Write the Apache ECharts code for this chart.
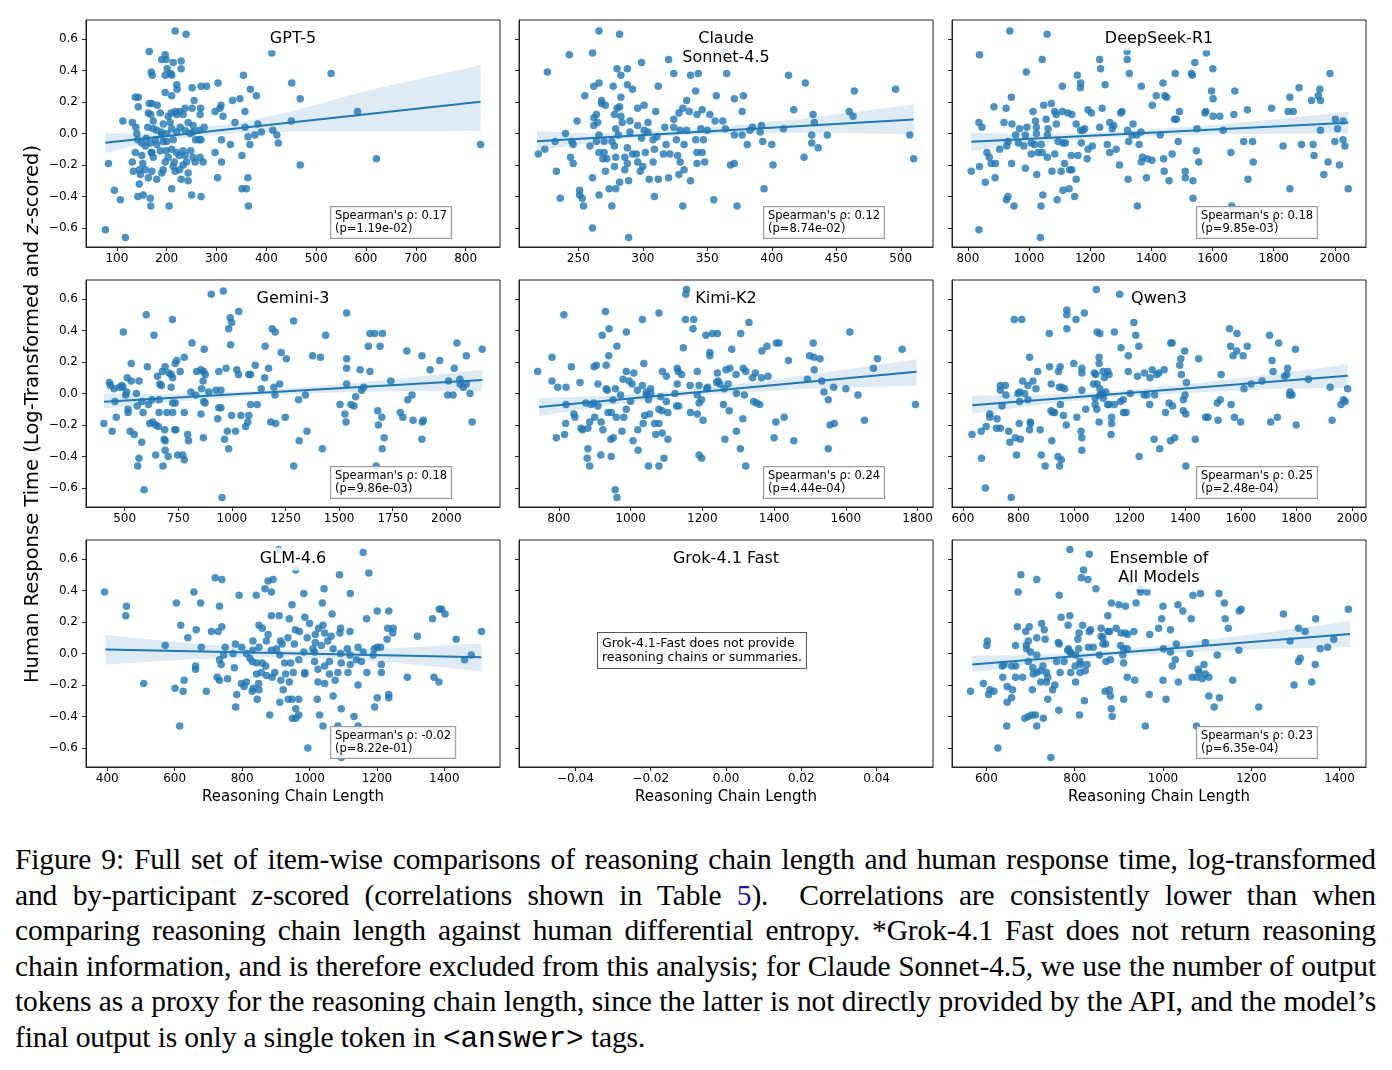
<!DOCTYPE html>
<html>
<head>
<meta charset="utf-8">
<script src="https://cdn.jsdelivr.net/npm/echarts@6/dist/echarts.min.js"></script>
<style>
  body { margin: 0; background: #fff; }
  #chart { position: absolute; left: 0; top: 0; width: 1392px; height: 820px; }
  .caption { position: absolute; left: 15px; top: 842px; width: 1361px; font-family: 'Liberation Serif', serif; color: #000; }
  .caption div { font-size: 29.5px; letter-spacing: -0.12px; line-height: 35.5px; white-space: nowrap; text-align: justify; text-align-last: justify; }
  .caption div.last { text-align-last: left; }
  .caption .ref { color: #1a1a9c; }
  .caption .mono { font-family: 'Liberation Mono', monospace; }
</style>
</head>
<body>
<div id="chart"></div>
<div class="caption">
  <div>Figure 9: Full set of item-wise comparisons of reasoning chain length and human response time, log-transformed</div>
  <div>and by-participant <i>z</i>-scored (correlations shown in Table <span class="ref">5</span>).&nbsp; Correlations are consistently lower than when</div>
  <div>comparing reasoning chain length against human differential entropy. *Grok-4.1 Fast does not return reasoning</div>
  <div>chain information, and is therefore excluded from this analysis; for Claude Sonnet-4.5, we use the number of output</div>
  <div>tokens as a proxy for the reasoning chain length, since the latter is not directly provided by the API, and the model’s</div>
  <div class="last">final output is only a single token in <span class="mono">&lt;answer&gt;</span> tags.</div>
</div>
<script>
// [reasoning chain length, response time (log, z-scored)] per item
const gpt5Pts = [[217,0.65],[239,0.63],[165,0.52],[411,0.51],[197,0.50],[190,0.47],[199,0.47],[229,0.46],[213,0.45],[229,0.41],[201,0.41],[169,0.39],[171,0.37],[197,0.37],[208,0.38],[354,0.37],[530,0.38],[210,0.37],[451,0.32],[303,0.32],[251,0.29],[269,0.30],[280,0.30],[368,0.28],[220,0.31],[197,0.26],[210,0.24],[221,0.28],[380,0.24],[137,0.23],[143,0.23],[468,0.22],[332,0.21],[347,0.22],[255,0.21],[165,0.19],[143,0.17],[309,0.18],[251,0.16],[268,0.16],[307,0.16],[181,0.18],[237,0.16],[226,0.14],[217,0.14],[297,0.14],[357,0.14],[583,0.14],[163,0.13],[187,0.13],[203,0.11],[209,0.13],[267,0.12],[313,0.11],[450,0.08],[112,0.08],[131,0.07],[173,0.08],[337,0.07],[383,0.06],[253,0.05],[275,0.04],[357,0.04],[413,0.02],[138,0.04],[162,0.04],[193,0.06],[173,0.03],[189,0.01],[237,0.02],[220,0.01],[390,0.01],[140,0.0],[200,0.0],[247,0.0],[142,-0.04],[159,-0.03],[177,-0.04],[213,-0.04],[258,-0.04],[265,-0.04],[269,-0.04],[310,-0.04],[363,-0.02],[377,-0.01],[421,-0.01],[424,-0.06],[367,-0.07],[328,-0.07],[150,-0.06],[167,-0.06],[180,-0.07],[193,-0.05],[157,-0.08],[187,-0.11],[199,-0.11],[210,-0.10],[220,-0.12],[233,-0.11],[137,-0.12],[169,-0.12],[830,-0.07],[150,-0.14],[173,-0.15],[203,-0.15],[225,-0.14],[237,-0.14],[297,-0.12],[351,-0.14],[253,-0.15],[267,-0.15],[621,-0.16],[131,-0.18],[152,-0.19],[197,-0.18],[215,-0.18],[240,-0.18],[257,-0.18],[273,-0.18],[310,-0.18],[83,-0.19],[213,-0.21],[233,-0.20],[468,-0.20],[193,-0.23],[226,-0.23],[145,-0.23],[170,-0.24],[157,-0.23],[133,-0.24],[217,-0.24],[147,-0.26],[243,-0.25],[163,-0.28],[180,-0.29],[229,-0.29],[243,-0.30],[302,-0.28],[363,-0.28],[145,-0.32],[190,-0.25],[210,-0.35],[351,-0.35],[360,-0.35],[95,-0.36],[142,-0.40],[153,-0.39],[250,-0.39],[269,-0.40],[107,-0.42],[167,-0.41],[168,-0.46],[205,-0.46],[364,-0.46],[77,-0.61],[117,-0.66],[170,0.19],[168,0.12],[180,0.02],[190,-0.01],[210,0.03],[227,0.04],[253,0.01],[265,0.02],[243,0.07],[233,0.12],[220,0.12],[207,0.07],[200,-0.05],[170,-0.12],[248,-0.11]];
const claudePts = [[266,0.65],[282,0.63],[243,0.50],[261,0.51],[363,0.52],[320,0.47],[299,0.45],[226,0.39],[280,0.41],[288,0.41],[283,0.37],[324,0.38],[337,0.37],[343,0.38],[365,0.38],[413,0.37],[426,0.32],[266,0.32],[262,0.30],[277,0.30],[288,0.31],[292,0.28],[312,0.30],[341,0.27],[496,0.28],[464,0.27],[255,0.24],[268,0.21],[283,0.23],[334,0.21],[357,0.24],[371,0.22],[378,0.24],[268,0.19],[271,0.18],[280,0.16],[282,0.17],[296,0.16],[301,0.18],[310,0.14],[331,0.16],[336,0.14],[346,0.15],[377,0.14],[417,0.15],[460,0.14],[463,0.11],[432,0.12],[328,0.13],[342,0.12],[352,0.12],[264,0.12],[262,0.10],[283,0.11],[249,0.08],[265,0.07],[284,0.07],[290,0.08],[304,0.07],[324,0.09],[356,0.08],[362,0.08],[433,0.07],[385,0.04],[392,0.05],[409,0.03],[262,0.05],[279,0.03],[296,0.05],[301,0.02],[317,0.04],[324,0.04],[329,0.02],[334,0.02],[345,0.03],[350,0.02],[364,0.03],[383,0.02],[240,0.0],[266,-0.01],[281,-0.01],[290,0.01],[304,0.01],[311,-0.02],[371,-0.01],[377,-0.01],[391,0.01],[431,-0.01],[443,-0.01],[507,-0.01],[232,-0.05],[245,-0.05],[264,-0.05],[270,-0.05],[276,-0.05],[299,-0.03],[308,-0.04],[326,-0.04],[332,-0.07],[341,-0.04],[347,-0.04],[393,-0.05],[400,-0.07],[381,-0.07],[431,-0.06],[224,-0.10],[246,-0.07],[259,-0.08],[278,-0.08],[266,-0.12],[270,-0.12],[288,-0.09],[292,-0.13],[318,-0.07],[309,-0.10],[316,-0.13],[321,-0.13],[327,-0.14],[342,-0.12],[346,-0.12],[436,-0.09],[219,-0.13],[244,-0.15],[269,-0.16],[272,-0.16],[279,-0.15],[286,-0.15],[295,-0.13],[302,-0.12],[308,-0.18],[329,-0.18],[342,-0.19],[348,-0.18],[425,-0.15],[510,-0.16],[246,-0.19],[271,-0.24],[278,-0.21],[286,-0.23],[288,-0.19],[296,-0.18],[298,-0.24],[300,-0.21],[305,-0.29],[312,-0.29],[320,-0.28],[328,-0.26],[332,-0.23],[337,-0.30],[368,-0.20],[371,-0.19],[401,-0.20],[233,-0.24],[261,-0.28],[289,-0.30],[274,-0.35],[279,-0.35],[282,-0.31],[251,-0.36],[251,-0.39],[253,-0.41],[254,-0.46],[236,-0.41],[266,-0.39],[276,-0.46],[309,-0.40],[331,-0.46],[355,-0.42],[373,-0.46],[394,-0.35],[261,-0.60],[289,-0.66],[278,0.12]];
const deepseekPts = [[937,0.65],[1059,0.63],[838,0.50],[1321,0.52],[1580,0.51],[1043,0.47],[1231,0.47],[1321,0.47],[1542,0.45],[1234,0.41],[1601,0.41],[991,0.39],[1158,0.37],[1328,0.38],[1478,0.38],[1531,0.38],[1534,0.37],[1984,0.38],[1169,0.32],[1168,0.29],[1249,0.31],[1109,0.30],[1367,0.30],[1438,0.32],[1883,0.29],[1951,0.28],[942,0.23],[1416,0.24],[1444,0.24],[1450,0.23],[1673,0.27],[1597,0.27],[1602,0.22],[1853,0.23],[1924,0.21],[1946,0.24],[1953,0.21],[1048,0.18],[1073,0.19],[885,0.17],[925,0.16],[1239,0.16],[1403,0.18],[1193,0.15],[1204,0.13],[1084,0.14],[1109,0.14],[1127,0.13],[1140,0.12],[1089,0.12],[1300,0.13],[1304,0.14],[1492,0.14],[1578,0.14],[1575,0.13],[1602,0.11],[1624,0.11],[1670,0.12],[1714,0.15],[1793,0.16],[1847,0.14],[1864,0.14],[2002,0.09],[2027,0.08],[1013,0.14],[918,0.07],[944,0.06],[836,0.07],[846,0.04],[969,0.03],[993,0.04],[1021,0.08],[1056,0.09],[1024,0.04],[1062,0.03],[1089,0.06],[1154,0.06],[1169,0.02],[1176,0.02],[1182,0.03],[1231,0.04],[1264,0.07],[1277,0.05],[1272,0.03],[1340,0.06],[1322,0.02],[1337,-0.01],[1352,-0.01],[1366,0.01],[1429,-0.01],[1482,0.09],[1476,0.09],[1549,0.03],[1635,0.02],[1953,0.02],[2009,0.03],[2000,-0.05],[2027,-0.04],[2033,-0.08],[1929,-0.07],[956,-0.01],[988,-0.01],[965,-0.06],[927,-0.08],[904,-0.10],[931,-0.05],[983,-0.08],[1007,-0.06],[1018,-0.07],[1024,0.0],[1060,-0.01],[1040,-0.07],[1007,-0.13],[1029,-0.12],[1043,-0.12],[1060,-0.15],[1084,-0.13],[1095,-0.05],[1111,-0.06],[1119,-0.06],[1171,-0.06],[1138,-0.14],[1160,-0.14],[1193,-0.10],[1207,-0.08],[1190,-0.16],[1256,-0.07],[1264,-0.12],[1285,-0.10],[1326,-0.05],[1360,-0.07],[1367,-0.18],[1371,-0.15],[1387,-0.16],[1402,-0.17],[1440,-0.16],[1468,-0.13],[1488,-0.05],[1547,-0.11],[1555,-0.18],[1660,-0.12],[1702,-0.05],[1731,-0.05],[1733,-0.18],[1831,-0.08],[1891,-0.07],[1978,-0.18],[2015,-0.20],[811,-0.24],[838,-0.21],[862,-0.12],[870,-0.15],[876,-0.19],[890,-0.19],[943,-0.19],[988,-0.22],[889,-0.28],[857,-0.31],[1025,-0.26],[1075,-0.24],[1116,-0.19],[1105,-0.24],[1133,-0.23],[1140,-0.23],[1154,-0.29],[1296,-0.20],[1324,-0.29],[1384,-0.28],[1442,-0.24],[1458,-0.30],[1511,-0.24],[1511,-0.28],[1536,-0.30],[1716,-0.29],[1932,-0.14],[1964,-0.26],[926,-0.42],[931,-0.40],[951,-0.46],[1045,-0.39],[1039,-0.46],[1092,-0.42],[1111,-0.36],[1131,-0.35],[1149,-0.40],[1354,-0.46],[1536,-0.41],[1663,-0.46],[1853,-0.35],[2044,-0.35],[836,-0.61],[1037,-0.66]];
const geminiPts = [[960,0.65],[904,0.63],[1032,0.52],[1535,0.51],[601,0.50],[723,0.47],[992,0.48],[1288,0.46],[999,0.45],[985,0.41],[1188,0.41],[1202,0.39],[494,0.39],[637,0.37],[1437,0.37],[1644,0.38],[1667,0.38],[1702,0.38],[1636,0.30],[1691,0.30],[814,0.32],[994,0.31],[1155,0.30],[2049,0.32],[871,0.28],[2167,0.28],[1230,0.26],[1816,0.27],[778,0.23],[743,0.21],[1376,0.24],[1413,0.23],[1254,0.22],[1535,0.22],[1886,0.24],[1969,0.21],[2093,0.24],[531,0.19],[606,0.17],[736,0.19],[689,0.17],[1109,0.18],[973,0.16],[1171,0.16],[1535,0.16],[2037,0.16],[1924,0.15],[1598,0.15],[1644,0.14],[856,0.15],[868,0.14],[836,0.14],[939,0.14],[1023,0.15],[1031,0.12],[1079,0.12],[1087,0.12],[1153,0.10],[876,0.12],[676,0.14],[707,0.13],[759,0.14],[717,0.12],[724,0.10],[653,0.11],[512,0.10],[531,0.08],[866,0.08],[1741,0.08],[2010,0.08],[2063,0.09],[429,0.07],[487,0.05],[476,0.04],[492,0.04],[567,0.08],[664,0.06],[671,0.05],[717,0.04],[926,0.02],[949,0.02],[859,0.03],[809,0.01],[892,0.01],[1137,0.03],[1196,0.04],[1223,0.06],[1535,0.06],[1605,0.02],[1614,0.04],[2079,0.04],[2064,0.06],[2093,0.06],[2110,0.0],[2031,-0.01],[450,0.03],[434,0.05],[505,-0.01],[509,0.01],[455,-0.05],[555,0.0],[580,-0.05],[611,-0.07],[516,-0.12],[516,-0.10],[559,-0.08],[586,-0.12],[661,-0.04],[627,-0.04],[736,-0.06],[724,-0.06],[697,-0.12],[661,-0.12],[724,-0.12],[778,-0.12],[832,-0.01],[869,-0.05],[875,-0.06],[856,-0.13],[939,-0.09],[949,-0.09],[934,-0.16],[999,-0.14],[1042,-0.14],[1087,-0.07],[1118,-0.07],[1079,-0.14],[1181,-0.18],[1204,-0.19],[1201,-0.01],[1249,-0.15],[1311,-0.04],[1343,-0.01],[1504,-0.07],[1527,-0.13],[1532,-0.18],[1555,-0.07],[1569,-0.08],[1577,-0.02],[1680,-0.11],[1699,-0.15],[1785,-0.12],[1797,-0.15],[1820,-0.04],[1840,-0.01],[1845,-0.17],[1888,-0.18],[1893,-0.17],[2120,-0.18],[2006,-0.01],[403,-0.19],[461,-0.15],[442,-0.24],[526,-0.24],[545,-0.26],[617,-0.19],[631,-0.18],[645,-0.20],[657,-0.21],[687,-0.23],[734,-0.23],[739,-0.23],[684,-0.29],[689,-0.30],[794,-0.26],[798,-0.30],[867,-0.28],[979,-0.24],[1017,-0.24],[1064,-0.21],[966,-0.29],[985,-0.35],[1074,-0.18],[1314,-0.30],[1350,-0.24],[1683,-0.20],[1710,-0.28],[1701,-0.35],[1886,-0.29],[580,-0.31],[689,-0.36],[703,-0.40],[645,-0.39],[567,-0.41],[561,-0.46],[679,-0.46],[747,-0.39],[771,-0.39],[778,-0.42],[1422,-0.35],[1288,-0.46],[1673,-0.46],[591,-0.61],[954,-0.66]];
const kimiPts = [[1156,0.66],[1154,0.63],[814,0.50],[930,0.52],[1079,0.51],[1033,0.47],[1153,0.47],[1176,0.47],[1330,0.45],[940,0.41],[1174,0.41],[921,0.37],[988,0.39],[1210,0.37],[1228,0.38],[1242,0.38],[1307,0.38],[1611,0.39],[962,0.30],[1147,0.29],[1282,0.28],[1380,0.30],[1406,0.32],[1414,0.32],[1509,0.32],[1366,0.27],[1757,0.28],[781,0.23],[939,0.24],[1221,0.26],[1221,0.24],[1499,0.24],[1511,0.23],[1528,0.22],[1688,0.22],[1440,0.21],[898,0.17],[905,0.18],[932,0.18],[1037,0.19],[835,0.17],[741,0.14],[988,0.14],[1009,0.13],[1089,0.14],[1100,0.11],[1130,0.16],[1133,0.14],[1142,0.12],[1186,0.14],[1266,0.15],[1277,0.16],[1294,0.12],[1314,0.16],[1321,0.14],[1348,0.13],[1383,0.11],[1512,0.15],[1677,0.16],[1242,0.13],[1244,0.08],[781,0.08],[797,0.04],[820,0.04],[859,0.07],[909,0.06],[932,0.03],[935,0.02],[958,0.03],[979,0.09],[996,0.08],[1004,0.06],[1033,0.05],[1056,0.03],[1019,0.02],[1044,0.01],[1130,0.06],[1166,0.05],[1191,0.05],[1212,0.03],[1215,0.04],[1240,0.07],[1249,0.06],[1261,0.03],[1272,0.06],[1295,0.0],[1340,0.10],[1365,0.10],[1493,0.09],[1533,0.08],[1539,0.01],[1566,0.04],[1600,0.03],[1634,-0.01],[1794,-0.07],[1551,-0.04],[1317,-0.01],[1343,-0.05],[1351,-0.06],[1360,-0.07],[1259,-0.07],[1275,-0.11],[1191,-0.06],[1198,-0.04],[1186,-0.01],[1167,-0.12],[1186,-0.13],[1202,-0.17],[1124,0.0],[1128,-0.08],[1134,-0.08],[1100,-0.05],[1084,-0.02],[1079,-0.10],[1088,-0.11],[1104,-0.12],[1056,0.0],[1050,-0.04],[1044,-0.01],[1039,-0.14],[1053,-0.13],[1067,-0.19],[1079,-0.19],[1088,-0.25],[1104,-0.29],[1070,-0.26],[1035,-0.19],[988,-0.10],[981,-0.15],[960,-0.15],[937,-0.12],[946,-0.12],[951,-0.04],[972,-0.01],[1000,-0.05],[909,-0.08],[890,-0.07],[875,-0.06],[820,-0.07],[897,-0.06],[842,-0.13],[845,-0.15],[900,-0.15],[886,-0.18],[918,-0.18],[819,-0.19],[862,-0.22],[866,-0.23],[881,-0.22],[923,-0.23],[976,-0.24],[1020,-0.23],[793,-0.28],[816,-0.26],[945,-0.29],[952,-0.28],[1007,-0.30],[1021,-0.36],[881,-0.35],[879,-0.41],[886,-0.46],[917,-0.39],[946,-0.40],[1050,-0.46],[1079,-0.46],[1093,-0.41],[1191,-0.39],[1198,-0.41],[1263,-0.29],[1295,-0.24],[1306,-0.35],[1313,-0.16],[1321,-0.46],[1405,-0.18],[1428,-0.15],[1400,-0.28],[1455,-0.30],[1556,-0.20],[1568,-0.19],[1551,-0.35],[1652,-0.17],[957,-0.61],[962,-0.66]];
const qwenPts = [[1080,0.66],[1164,0.63],[785,0.47],[812,0.47],[974,0.53],[974,0.50],[1037,0.51],[1007,0.47],[974,0.41],[911,0.38],[1083,0.39],[1093,0.38],[1145,0.39],[1215,0.45],[1222,0.37],[1233,0.30],[1169,0.29],[1353,0.32],[1348,0.32],[1398,0.27],[1559,0.41],[1586,0.38],[1703,0.37],[1736,0.32],[1796,0.28],[1623,0.30],[1563,0.30],[1572,0.24],[1608,0.24],[1585,0.27],[840,0.23],[1090,0.23],[1090,0.19],[1195,0.24],[1384,0.22],[1380,0.18],[1448,0.22],[1712,0.21],[1716,0.14],[1768,0.16],[1765,0.12],[999,0.19],[869,0.14],[912,0.17],[950,0.17],[944,0.14],[1028,0.16],[1028,0.13],[1073,0.13],[1078,0.12],[1104,0.14],[1121,0.14],[1126,0.12],[1109,0.10],[1195,0.14],[1228,0.11],[1253,0.13],[1281,0.15],[1273,0.10],[1297,0.12],[1305,0.13],[1324,0.15],[1386,0.12],[1404,0.07],[1529,0.12],[1637,0.06],[1676,0.08],[1843,0.09],[1757,0.11],[1611,0.03],[1777,0.01],[1784,-0.01],[1921,0.04],[1984,0.03],[815,0.08],[852,0.08],[735,0.05],[753,0.05],[735,0.02],[834,0.05],[918,0.06],[947,0.04],[956,0.04],[966,0.03],[863,0.03],[804,0.01],[798,0.0],[822,0.0],[804,-0.05],[834,-0.04],[755,-0.01],[741,-0.08],[1028,0.02],[1070,0.06],[1083,0.06],[1093,0.03],[1102,0.0],[1114,0.01],[1076,-0.07],[1082,-0.10],[1093,-0.01],[1076,-0.03],[1105,-0.03],[1121,-0.07],[1126,-0.07],[1145,-0.07],[1167,-0.05],[1177,-0.04],[1202,0.0],[1252,-0.01],[1262,-0.01],[1290,-0.01],[1272,-0.07],[1342,-0.06],[1354,-0.08],[1393,-0.04],[1399,-0.01],[1393,-0.11],[1402,-0.13],[1515,-0.06],[1526,-0.04],[1565,-0.07],[1775,-0.01],[1960,-0.07],[1969,-0.04],[1975,-0.05],[1928,-0.17],[1799,-0.20],[1707,-0.18],[1731,-0.15],[1577,-0.15],[1599,-0.18],[1518,-0.17],[1473,-0.15],[1482,-0.15],[1436,-0.29],[1402,-0.46],[1362,-0.28],[1347,-0.30],[1329,-0.12],[1288,-0.29],[1308,-0.35],[1234,-0.40],[1187,-0.12],[1178,-0.12],[1135,-0.15],[1135,-0.19],[1133,-0.26],[1090,-0.18],[1042,-0.10],[1010,-0.15],[1025,-0.24],[1028,-0.28],[1028,-0.36],[972,-0.20],[962,-0.14],[924,-0.12],[930,-0.12],[917,-0.11],[951,-0.07],[942,-0.40],[954,-0.42],[948,-0.46],[896,-0.46],[920,-0.30],[882,-0.39],[878,-0.23],[843,-0.19],[840,-0.23],[807,-0.29],[789,-0.28],[793,-0.39],[765,-0.24],[769,-0.31],[735,-0.22],[721,-0.22],[723,-0.16],[697,-0.13],[697,-0.15],[684,-0.21],[666,-0.24],[633,-0.26],[667,-0.41],[681,-0.60],[774,-0.66],[803,-0.19],[843,-0.18]];
const glmPts = [[909,0.66],[1159,0.64],[959,0.53],[1176,0.51],[1089,0.50],[720,0.48],[740,0.47],[877,0.46],[892,0.47],[1043,0.41],[868,0.41],[657,0.39],[392,0.39],[791,0.37],[842,0.37],[887,0.39],[983,0.38],[1121,0.38],[605,0.32],[677,0.32],[733,0.30],[1038,0.32],[948,0.31],[457,0.30],[455,0.24],[1067,0.25],[887,0.24],[910,0.24],[986,0.23],[940,0.22],[1201,0.27],[1235,0.27],[1169,0.22],[1365,0.22],[1385,0.28],[1392,0.28],[1402,0.25],[618,0.18],[740,0.17],[850,0.18],[860,0.16],[1000,0.19],[1027,0.16],[1040,0.18],[1092,0.16],[958,0.15],[970,0.14],[709,0.14],[664,0.15],[729,0.14],[1120,0.14],[1090,0.13],[1045,0.13],[1017,0.12],[1232,0.16],[1248,0.16],[1247,0.13],[1320,0.11],[1435,0.09],[1510,0.14],[639,0.10],[877,0.12],[872,0.08],[914,0.08],[936,0.10],[955,0.06],[993,0.10],[1017,0.07],[1035,0.05],[1054,0.08],[1064,0.11],[1230,0.09],[572,0.05],[679,0.04],[750,0.04],[780,0.06],[799,0.04],[832,0.02],[832,0.08],[850,0.04],[887,0.02],[902,0.03],[919,0.06],[983,0.01],[1010,0.03],[1015,0.01],[1070,0.03],[1092,0.0],[1112,0.03],[1144,0.04],[1159,0.01],[1192,0.03],[1201,0.04],[1211,0.04],[1189,-0.01],[1120,-0.01],[745,-0.01],[773,0.0],[813,0.0],[823,-0.03],[830,-0.05],[843,-0.06],[860,-0.06],[870,-0.08],[912,-0.01],[926,-0.06],[944,-0.06],[968,-0.04],[1015,-0.05],[1045,-0.08],[1059,-0.05],[1094,-0.06],[1121,-0.07],[1139,-0.04],[1154,-0.05],[1213,-0.07],[738,-0.07],[777,-0.09],[662,-0.08],[662,-0.10],[733,-0.04],[857,-0.12],[843,-0.13],[872,-0.14],[897,-0.12],[929,-0.13],[952,-0.12],[986,-0.12],[986,-0.13],[1025,-0.10],[1059,-0.13],[1076,-0.17],[1084,-0.12],[1114,-0.12],[1170,-0.12],[1213,-0.12],[726,-0.15],[733,-0.17],[757,-0.16],[813,-0.18],[849,-0.19],[889,-0.15],[915,-0.17],[940,-0.18],[1025,-0.18],[1045,-0.19],[1144,-0.20],[1290,-0.15],[1369,-0.15],[1384,-0.18],[508,-0.19],[601,-0.22],[628,-0.17],[625,-0.24],[694,-0.24],[784,-0.26],[798,-0.19],[806,-0.21],[830,-0.24],[833,-0.22],[850,-0.23],[922,-0.23],[937,-0.29],[845,-0.29],[912,-0.31],[968,-0.29],[948,-0.29],[1023,-0.29],[1070,-0.27],[1201,-0.28],[1235,-0.26],[1235,-0.28],[781,-0.34],[959,-0.35],[1094,-0.35],[1193,-0.34],[882,-0.39],[949,-0.41],[959,-0.41],[968,-0.39],[1030,-0.39],[1132,-0.40],[615,-0.46],[1040,-0.46],[1084,-0.46],[1144,-0.46],[995,-0.60],[1094,-0.66],[1460,-0.04],[1480,-0.01]];
const ensemblePts = [[789,0.66],[833,0.63],[678,0.50],[714,0.47],[820,0.53],[815,0.48],[830,0.47],[1011,0.52],[924,0.46],[948,0.41],[848,0.41],[672,0.39],[765,0.37],[949,0.39],[964,0.39],[1068,0.37],[1085,0.38],[1127,0.38],[939,0.32],[883,0.32],[900,0.31],[915,0.30],[1000,0.30],[1034,0.31],[1045,0.27],[1139,0.32],[1173,0.27],[1177,0.28],[1420,0.28],[769,0.23],[789,0.24],[875,0.24],[997,0.22],[1064,0.22],[1141,0.22],[1273,0.25],[1346,0.22],[785,0.18],[670,0.17],[697,0.17],[725,0.19],[731,0.15],[818,0.18],[860,0.16],[990,0.16],[1017,0.15],[1148,0.16],[1307,0.16],[1322,0.14],[689,0.14],[810,0.13],[833,0.14],[836,0.15],[875,0.14],[879,0.14],[894,0.16],[905,0.13],[915,0.13],[920,0.12],[934,0.14],[970,0.12],[860,0.11],[864,0.10],[807,0.09],[733,0.09],[714,0.10],[602,0.08],[601,0.05],[666,0.05],[690,0.05],[695,0.08],[763,0.07],[765,0.06],[786,0.03],[790,0.01],[809,0.03],[831,0.04],[842,0.04],[864,0.06],[870,0.06],[856,-0.01],[904,0.05],[911,0.03],[919,0.03],[1001,0.03],[1030,0.06],[1096,0.07],[1172,0.02],[1288,0.08],[1373,0.04],[1387,0.09],[1356,0.03],[691,0.03],[700,0.01],[714,-0.01],[695,-0.05],[636,-0.08],[657,-0.08],[705,-0.09],[728,-0.08],[759,-0.05],[776,-0.05],[784,0.02],[792,0.0],[802,-0.01],[812,-0.05],[813,-0.07],[828,-0.07],[824,-0.11],[801,-0.08],[812,-0.12],[791,-0.12],[767,-0.12],[736,-0.12],[723,-0.11],[714,-0.12],[706,-0.13],[682,-0.15],[666,-0.15],[637,-0.15],[647,-0.21],[593,-0.19],[605,-0.26],[617,-0.24],[659,-0.23],[704,-0.23],[723,-0.18],[736,-0.18],[739,-0.15],[750,-0.23],[755,-0.20],[739,-0.29],[764,-0.36],[802,-0.18],[822,-0.30],[811,-0.39],[869,-0.24],[879,-0.23],[881,-0.27],[883,-0.35],[885,-0.40],[911,-0.29],[919,-0.15],[936,-0.17],[960,-0.46],[969,-0.26],[1000,-0.17],[1007,-0.29],[1035,-0.18],[1066,-0.15],[1076,-0.15],[1082,-0.12],[1089,-0.16],[1096,-0.13],[1104,-0.15],[1080,-0.10],[1093,-0.07],[1123,-0.01],[1104,-0.27],[1116,-0.34],[1128,-0.28],[1076,-0.46],[1158,-0.17],[1217,-0.34],[1297,-0.20],[1337,-0.18],[1307,-0.05],[1311,-0.03],[1345,-0.07],[1021,-0.08],[1028,-0.04],[1061,0.0],[1017,0.01],[909,-0.01],[911,-0.06],[881,-0.04],[871,-0.05],[640,-0.07],[666,-0.08],[687,-0.41],[695,-0.40],[703,-0.39],[711,-0.39],[729,-0.41],[714,-0.46],[646,-0.46],[626,-0.60],[746,-0.66],[564,-0.24],[608,-0.23],[647,-0.31],[657,-0.28]];

// fitted line end points and confidence band [x, lower, upper]
const gpt5Fit = [[77,-0.059],[830,0.201]];
const gpt5Band = [[77,-0.123,0.003],[150,-0.068,-0.003],[230,-0.03,0.025],[330,0.0,0.06],[450,0.013,0.14],[600,0.015,0.27],[830,0.017,0.435]];
const claudeFit = [[218,-0.049],[510,0.089]];
const claudeBand = [[218,-0.106,0.015],[260,-0.06,0.0],[310,-0.018,0.017],[360,-0.005,0.043],[420,0.005,0.09],[510,-0.004,0.184]];
const deepseekFit = [[811,-0.053],[2044,0.068]];
const deepseekBand = [[811,-0.11,0.006],[1000,-0.064,-0.004],[1300,-0.022,0.012],[1600,-0.006,0.054],[1800,-0.001,0.089],[2044,0.0,0.138]];
const geminiFit = [[404,-0.053],[2168,0.085]];
const geminiBand = [[404,-0.095,0.0],[700,-0.056,-0.004],[1100,-0.015,0.016],[1500,0.008,0.058],[1850,0.016,0.105],[2168,0.015,0.153]];
const kimiFit = [[745,-0.085],[1797,0.138]];
const kimiBand = [[745,-0.142,-0.028],[950,-0.072,-0.012],[1130,-0.021,0.015],[1350,0.013,0.073],[1550,0.036,0.136],[1797,0.049,0.218]];
const qwenFit = [[634,-0.074],[1984,0.112]];
const qwenBand = [[634,-0.127,-0.015],[900,-0.067,-0.007],[1150,-0.021,0.015],[1450,0.008,0.068],[1750,0.03,0.13],[1984,0.036,0.186]];
const glmFit = [[395,0.025],[1510,-0.023]];
const glmBand = [[395,-0.07,0.117],[650,-0.036,0.064],[950,-0.019,0.021],[1250,-0.057,0.033],[1510,-0.112,0.064]];
const ensembleFit = [[568,-0.07],[1424,0.123]];
const ensembleBand = [[568,-0.121,-0.015],[720,-0.064,-0.008],[880,-0.018,0.018],[1050,0.008,0.068],[1250,0.03,0.14],[1424,0.042,0.205]];

const panelTitles = ['GPT-5', 'Claude\nSonnet-4.5', 'DeepSeek-R1', 'Gemini-3', 'Kimi-K2', 'Qwen3', 'GLM-4.6', 'Grok-4.1 Fast', 'Ensemble of\nAll Models'];
const spearmanText = [
  "Spearman's ρ: 0.17\n(p=1.19e-02)", "Spearman's ρ: 0.12\n(p=8.74e-02)", "Spearman's ρ: 0.18\n(p=9.85e-03)",
  "Spearman's ρ: 0.18\n(p=9.86e-03)", "Spearman's ρ: 0.24\n(p=4.44e-04)", "Spearman's ρ: 0.25\n(p=2.48e-04)",
  "Spearman's ρ: -0.02\n(p=8.22e-01)", null, "Spearman's ρ: 0.23\n(p=6.35e-04)"
];
const grokNote = 'Grok-4.1-Fast does not provide\nreasoning chains or summaries.';
const xRanges = [[38,869],[204,525],[748,2102],[320,2250],[689,1843],[561,2050],[337,1565],[-0.055,0.055],[522,1460]];
const xTicks = [
  [100,200,300,400,500,600,700,800], [250,300,350,400,450,500], [800,1000,1200,1400,1600,1800,2000],
  [500,750,1000,1250,1500,1750,2000], [800,1000,1200,1400,1600,1800], [600,800,1000,1200,1400,1600,1800,2000],
  [400,600,800,1000,1200,1400], [-0.04,-0.02,0,0.02,0.04], [600,800,1000,1200,1400]
];
const yTicks = [-0.6,-0.4,-0.2,0,0.2,0.4,0.6];
const yRange = [-0.72, 0.72];

const allPts = [gpt5Pts, claudePts, deepseekPts, geminiPts, kimiPts, qwenPts, glmPts, null, ensemblePts];
const allFits = [gpt5Fit, claudeFit, deepseekFit, geminiFit, kimiFit, qwenFit, glmFit, null, ensembleFit];
const allBands = [gpt5Band, claudeBand, deepseekBand, geminiBand, kimiBand, qwenBand, glmBand, null, ensembleBand];

const colLeft = [86, 519, 952];
const rowTop = [20, 280, 540];
const plotW = 414, plotH = 227;
const blue = '#1f77b4';
const font = 'DejaVu Sans';
const minus = (s) => s.replace('-', '\u2212');

const grids = [], xAxes = [], yAxes = [], series = [], graphics = [];

for (let i = 0; i < 9; i++) {
  const col = i % 3, row = Math.floor(i / 3);
  const left = colLeft[col], top = rowTop[row];
  grids.push({ left, top, width: plotW, height: plotH, show: true, borderColor: '#222', borderWidth: 1, outerBoundsMode: 'none' });
  xAxes.push({
    gridIndex: i, type: 'value', min: xRanges[i][0], max: xRanges[i][1],
    axisLine: { show: true, onZero: false, lineStyle: { color: '#222', width: 1 } },
    axisTick: { show: true, length: 4, lineStyle: { color: '#222' }, customValues: xTicks[i] },
    axisLabel: {
      customValues: xTicks[i], fontSize: 12, fontFamily: font, color: '#000', margin: 6,
      formatter: (v) => i === 7 ? minus(v.toFixed(2)) : String(v),
    },
    splitLine: { show: false },
  });
  yAxes.push({
    gridIndex: i, type: 'value', min: yRange[0], max: yRange[1],
    axisLine: { show: true, onZero: false, lineStyle: { color: '#222', width: 1 } },
    axisTick: { show: true, length: 4, lineStyle: { color: '#222' }, customValues: yTicks },
    axisLabel: {
      show: col === 0, customValues: yTicks, fontSize: 12, fontFamily: font, color: '#000', margin: 8,
      formatter: (v) => minus(v.toFixed(1)),
    },
    splitLine: { show: false },
  });

  if (allPts[i]) {
    series.push({
      type: 'scatter', xAxisIndex: i, yAxisIndex: i, data: allPts[i], symbolSize: 7.5,
      itemStyle: { color: blue, opacity: 0.8 }, z: 2, silent: true,
    });
    const band = allBands[i];
    series.push({
      type: 'custom', xAxisIndex: i, yAxisIndex: i, data: [[band[0][0], band[0][1]]], z: 3, silent: true, clip: true,
      renderItem: (params, api) => {
        const upper = band.map((b) => api.coord([b[0], b[2]]));
        const lower = band.slice().reverse().map((b) => api.coord([b[0], b[1]]));
        return { type: 'polygon', shape: { points: upper.concat(lower) }, style: { fill: 'rgba(31,119,180,0.15)' } };
      },
    });
    series.push({
      type: 'line', xAxisIndex: i, yAxisIndex: i, data: allFits[i], symbol: 'none',
      lineStyle: { color: blue, width: 2 }, z: 4, silent: true,
    });
  }

  // panel title, with a translucent white box like matplotlib's
  const twoLines = panelTitles[i].includes('\n');
  graphics.push({
    type: 'text', z: 100, x: left + plotW / 2, y: top + 19 + (twoLines ? 9.5 : 0),
    style: {
      text: panelTitles[i], font: `16px "${font}"`, lineHeight: 19, fill: '#000',
      align: 'center', verticalAlign: 'middle', backgroundColor: 'rgba(255,255,255,0.8)', padding: [2, 3],
    },
  });

  if (spearmanText[i]) {
    graphics.push({
      type: 'text', z: 100, x: left + 245, y: top + 187,
      style: {
        text: spearmanText[i], font: `11.5px "${font}"`, lineHeight: 13, fill: '#000',
        align: 'left', verticalAlign: 'top', backgroundColor: 'rgba(255,255,255,0.8)',
        borderColor: '#999', borderWidth: 1, padding: [3, 4, 2, 4],
      },
    });
  }

  if (row === 2) {
    graphics.push({
      type: 'text', z: 100, x: left + plotW / 2, y: 797,
      style: { text: 'Reasoning Chain Length', font: `15px "${font}"`, fill: '#000', align: 'center', verticalAlign: 'middle' },
    });
  }
}

graphics.push({
  type: 'text', z: 100, x: colLeft[1] + 79, y: 633,
  style: {
    text: grokNote, font: `12.5px "${font}"`, lineHeight: 14, fill: '#000', align: 'left', verticalAlign: 'top',
    backgroundColor: '#fff', borderColor: '#555', borderWidth: 1, padding: [4, 4, 3, 4],
  },
});

graphics.push({
  type: 'text', z: 100, x: 33, y: 414, rotation: Math.PI / 2,
  style: {
    text: '{n|Human Response Time (Log-Transformed and }{i|z}{n|-scored)}',
    rich: {
      n: { font: `19.5px "${font}"`, fill: '#000' },
      i: { font: `italic 19.5px "${font}"`, fill: '#000' },
    },
    align: 'center', verticalAlign: 'middle',
  },
});

const chart = echarts.init(document.getElementById('chart'));
chart.setOption({
  animation: false,
  textStyle: { fontFamily: font },
  grid: grids,
  xAxis: xAxes,
  yAxis: yAxes,
  series,
  graphic: graphics,
});
</script>
</body>
</html>
